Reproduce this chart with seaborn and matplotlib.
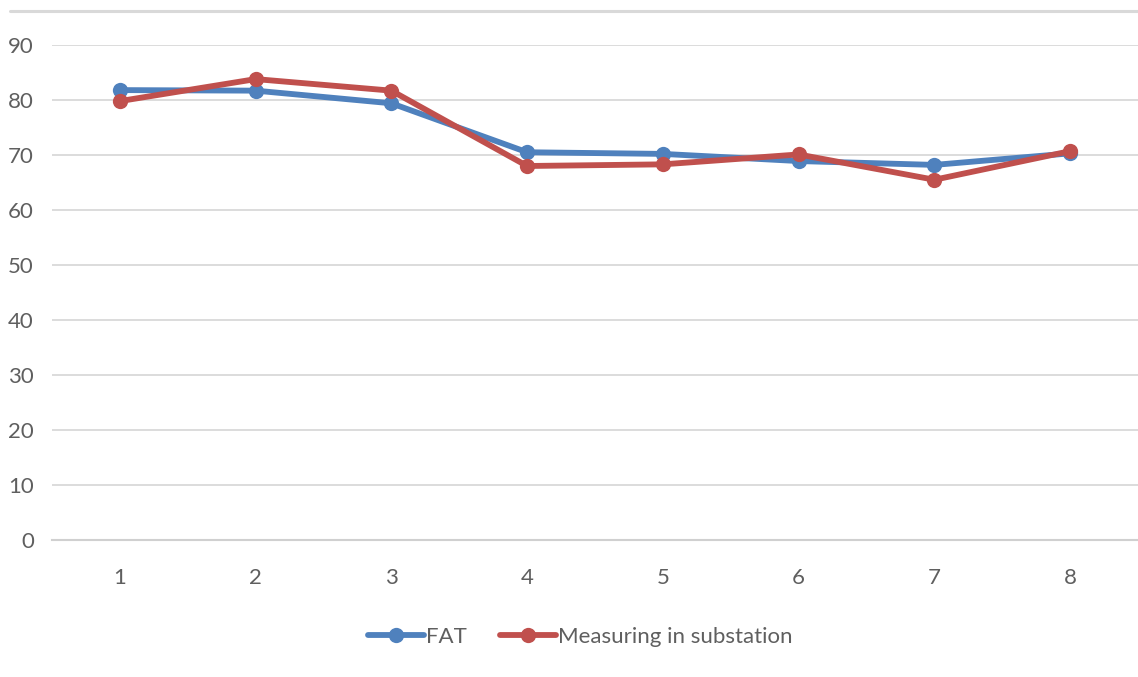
import matplotlib
matplotlib.use("Agg")
import matplotlib.pyplot as plt
from matplotlib.lines import Line2D
import seaborn as sns
import pandas as pd

# Test points and the two measurement series
points = [1, 2, 3, 4, 5, 6, 7, 8]
fat = [81.8, 81.7, 79.4, 70.5, 70.2, 68.9, 68.2, 70.3]
substation = [79.8, 83.8, 81.7, 68.0, 68.3, 70.1, 65.5, 70.7]
series_names = ["FAT", "Measuring in substation"]
colors = ["#4F81BD", "#C0504D"]
y_ticks = [0, 10, 20, 30, 40, 50, 60, 70, 80, 90]

df = pd.DataFrame({
    "point": points * 2,
    "value": fat + substation,
    "series": [series_names[0]] * len(points) + [series_names[1]] * len(points),
})

sns.set_theme(style="white")
plt.rcParams["font.family"] = ["Lato", "DejaVu Sans"]

fig = plt.figure(figsize=(11.38, 6.77), dpi=100)
ax = fig.add_axes([52 / 1138, 137 / 677, 1 - 52 / 1138, 495 / 677])

sns.lineplot(
    data=df, x="point", y="value", hue="series", palette=colors,
    marker="o", markersize=11, markeredgewidth=0, linewidth=4.2,
    ax=ax, legend=False, sort=False,
)

ax.set_xlim(0.5, 8.5)
ax.set_ylim(0, 90)
ax.set_xticks(points)
ax.set_yticks(y_ticks)
ax.set_xlabel("")
ax.set_ylabel("")
ax.grid(axis="y", color="#d9d9d9", linewidth=1.3)
ax.grid(axis="x", visible=False)
for side in ["top", "right", "left"]:
    ax.spines[side].set_visible(False)
ax.spines["bottom"].set_color("#d0d0d0")
ax.spines["bottom"].set_linewidth(1.5)
ax.tick_params(axis="both", length=0, labelsize=16, labelcolor="#5f5f5f")
ax.tick_params(axis="y", pad=13)
ax.tick_params(axis="x", pad=20)

# Thin frame line across the top of the chart area
fig.add_artist(Line2D([10 / 1138, 1.0], [1 - 11 / 677, 1 - 11 / 677],
                      color="#d9d9d9", linewidth=2.2))

handles = [
    Line2D([], [], color=c, linewidth=4.2, marker="o", markersize=11,
           markeredgewidth=0)
    for c in colors
]
fig.legend(handles, series_names, loc="center", bbox_to_anchor=(0.51, 1 - 637 / 677),
           ncol=2, frameon=False, fontsize=16, handlelength=2.5,
           handletextpad=0.1, columnspacing=1.5, labelcolor="#5f5f5f")

fig.savefig("out.png", dpi=100)
